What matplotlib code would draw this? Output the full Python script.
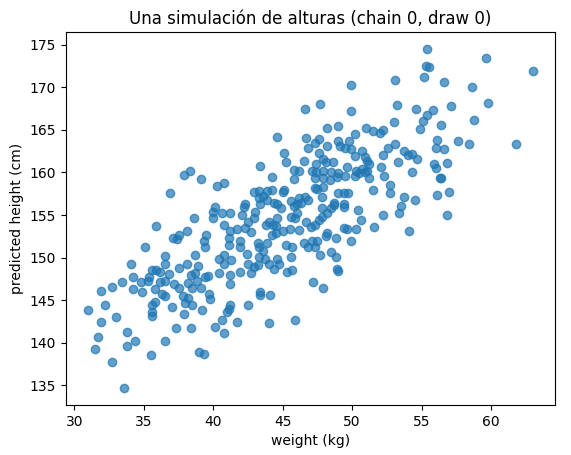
import matplotlib
matplotlib.use("Agg")
import matplotlib.pyplot as plt

# simulated (weight, height) pairs
weight = [
    59.6, 63.0, 56.6, 58.6, 59.8, 57.1, 55.8, 56.4, 58.8, 56.1, 57.6, 58.4, 61.8,
    55.4, 55.3, 55.5, 55.2, 53.1,
    56.6, 56.8, 56.4, 56.1, 57.0, 56.8, 56.3,
    52.3, 54.3, 52.7, 52.7, 51.5, 49.7, 53.7, 53.5, 53.4, 54.5, 50.4, 52.2, 50.6,
    50.3, 49.6, 51.6, 49.9, 54.1, 50.9, 50.5, 51.2, 50.2,
    49.9, 53.2, 49.9, 54.6, 55.4, 55.1, 54.9, 53.0, 51.0, 51.5, 52.0, 52.2, 50.2,
    49.8, 49.9, 50.2, 50.7, 50.9, 51.1, 51.2, 53.1, 52.6, 52.2, 53.7, 54.0, 54.3,
    54.7, 53.3, 55.9, 56.0, 56.0, 52.1, 50.3, 50.7, 51.1,
    46.6, 47.7, 48.2, 49.0, 44.6, 46.7, 47.3, 47.6, 48.2, 49.0, 49.1, 49.5, 46.8,
    45.1, 47.6, 45.2, 46.5, 47.9, 48.1, 47.4, 48.6, 43.4, 45.8, 46.2, 47.1, 47.4,
    47.9, 48.5, 49.0, 49.6, 49.5, 44.2, 45.8, 47.3, 47.9, 48.4, 48.9, 47.3, 47.5,
    47.9, 45.1, 45.0, 43.9, 44.2, 43.3, 43.6, 46.2, 46.6, 46.8, 47.8, 48.7, 49.4,
    49.0, 49.4, 44.4, 44.6, 43.9, 45.6, 45.8,
    43.8, 44.0, 44.3, 44.5, 44.9, 46.0, 46.3, 44.6, 45.6, 45.9, 46.0, 44.2, 44.5,
    45.0, 45.5, 46.2, 43.2, 43.3, 43.9, 43.6, 43.7, 43.3, 44.0, 44.4, 44.7, 44.6,
    45.2, 45.7, 45.6, 45.3, 45.7, 46.5, 46.8, 47.1, 47.5, 47.3, 48.1, 48.2, 48.8,
    47.7, 48.5, 48.8, 48.9, 49.0, 47.2, 47.9, 43.4, 43.4, 44.1, 44.0, 45.9, 46.7,
    47.0, 47.3, 47.6, 47.8, 47.8, 48.2, 48.5, 48.7, 49.4, 49.4,
    37.9, 38.3, 39.1, 40.3, 40.8, 36.9, 42.9, 43.3, 43.4, 42.3, 42.2, 40.1, 40.0,
    40.0, 40.6, 41.2, 43.0, 42.1, 42.9, 38.6, 40.8, 42.5, 42.3, 42.7, 41.7, 38.1,
    37.5, 37.1, 37.4, 39.5, 39.3, 39.4, 41.2, 41.1, 41.9, 41.1, 41.9, 38.7, 42.4,
    37.5, 38.1, 38.9, 38.4, 38.7, 38.2, 38.8, 38.5, 39.1, 39.4, 39.6, 37.2, 37.5,
    37.8, 38.2, 38.0, 38.5, 37.0, 37.9, 39.2, 39.7, 39.8, 37.3, 38.4, 39.0, 39.3,
    40.1, 40.6, 40.8, 41.0, 41.1, 41.2, 41.7, 42.5, 40.4, 41.2, 41.2, 41.9, 40.4,
    40.8, 40.8, 41.3, 42.5, 42.7, 42.9, 43.2,
    35.9, 35.1, 36.5,
    34.1, 34.2, 33.4, 32.7, 31.9, 31.0, 32.2, 33.0, 31.9, 31.7, 31.5, 32.7, 33.6,
    33.8, 34.4, 33.8, 35.5, 36.5, 34.2, 34.9, 34.8, 35.3, 35.4, 35.6, 35.9, 36.2,
    36.5, 36.8, 36.5, 36.2, 35.8, 36.3, 36.5, 35.8, 35.6, 35.6, 35.6,
]
height = [
    173.4, 171.9, 170.6, 170.0, 168.1, 167.8, 167.3, 165.6, 166.2, 163.8, 163.7, 163.3, 163.4,
    174.5, 172.5, 172.4, 171.2, 170.8,
    162.7, 161.1, 159.3, 157.3, 157.7, 155.0, 159.4,
    159.6, 160.1, 158.5, 157.6, 157.9, 157.6, 157.1, 156.1, 155.2, 156.8, 155.6, 155.0, 154.4,
    153.4, 153.4, 153.6, 152.0, 153.1, 160.0, 159.9, 159.4, 159.6,
    170.3, 167.9, 167.2, 167.4, 166.7, 166.1, 165.1, 165.9, 165.2, 164.9, 164.6, 165.0, 164.5,
    163.7, 162.7, 161.9, 162.5, 161.8, 161.4, 161.0, 163.4, 162.9, 162.0, 162.5, 162.0, 162.2,
    161.6, 161.2, 161.0, 162.9, 160.5, 160.6, 160.2, 160.4, 160.2,
    167.5, 168.0, 165.2, 165.5, 164.2, 164.1, 163.5, 163.9, 163.1, 163.7, 163.1, 162.9, 162.9,
    162.3, 162.3, 161.2, 161.3, 161.6, 161.2, 161.0, 161.2, 160.8, 160.3, 160.2, 160.2, 160.0,
    160.2, 160.0, 159.9, 160.6, 159.6, 159.5, 159.2, 159.4, 159.4, 159.1, 159.5, 158.2, 158.1,
    158.3, 158.0, 157.7, 157.8, 157.9, 157.8, 157.2, 157.0, 157.1, 156.8, 157.1, 156.4, 156.3,
    157.6, 157.6, 156.4, 156.3, 156.8, 156.6, 156.1,
    153.8, 154.2, 153.8, 153.7, 155.8, 156.3, 156.4, 154.6, 154.8, 154.6, 155.2, 152.7, 152.9,
    153.1, 153.4, 153.3, 151.7, 151.3, 151.7, 150.8, 149.9, 150.1, 149.3, 148.7, 149.3, 149.8,
    151.5, 151.2, 150.1, 148.3, 148.6, 151.7, 151.3, 151.9, 151.9, 151.3, 152.5, 152.9, 152.3,
    150.3, 150.7, 150.1, 148.7, 148.4, 147.1, 146.4, 146.0, 145.6, 145.6, 142.3, 142.7, 154.2,
    153.6, 153.8, 154.4, 154.8, 155.8, 155.2, 155.8, 156.2, 155.9, 153.5,
    159.7, 160.2, 159.2, 158.4, 158.8, 157.6, 157.7, 157.0, 156.3, 156.3, 155.9, 155.9, 155.4,
    154.6, 155.2, 155.2, 155.4, 155.0, 154.6, 154.6, 153.8, 154.2, 153.5, 153.0, 153.4, 153.1,
    152.7, 152.3, 152.2, 152.7, 151.9, 151.3, 153.1, 152.3, 152.0, 151.5, 151.3, 150.3, 150.4,
    148.8, 149.3, 149.0, 148.0, 148.2, 147.0, 147.3, 146.5, 146.4, 147.7, 147.9, 146.9, 146.4,
    145.5, 145.3, 144.7, 144.5, 144.2, 143.4, 143.9, 145.7, 145.1, 141.7, 141.7, 138.9, 138.7,
    141.9, 142.7, 141.2, 143.6, 144.0, 144.5, 142.5, 144.5, 148.2, 148.0, 146.9, 148.3, 149.9,
    150.3, 149.2, 149.7, 149.3, 148.2, 148.9, 149.1,
    153.7, 151.2, 150.2,
    149.2, 147.7, 147.2, 146.6, 146.1, 143.9, 144.4, 143.0, 142.4, 140.7, 139.3, 137.8, 134.7,
    141.3, 140.2, 139.6, 138.6, 140.2, 146.3, 146.0, 147.2, 147.3, 147.7, 148.5, 148.5, 148.3,
    149.3, 148.1, 147.3, 147.1, 146.3, 145.7, 145.5, 144.8, 144.4, 143.6, 143.2,
]

fig = plt.figure(figsize=(5.71, 4.55), dpi=100)
ax = fig.add_axes([0.1156, 0.1099, 0.8564, 0.8198])

ax.scatter(weight, height, alpha=0.7)

ax.set_xlabel("weight (kg)")
ax.set_ylabel("predicted height (cm)")
ax.set_title("Una simulación de alturas (chain 0, draw 0)")

fig.savefig("out.png", dpi=100)
